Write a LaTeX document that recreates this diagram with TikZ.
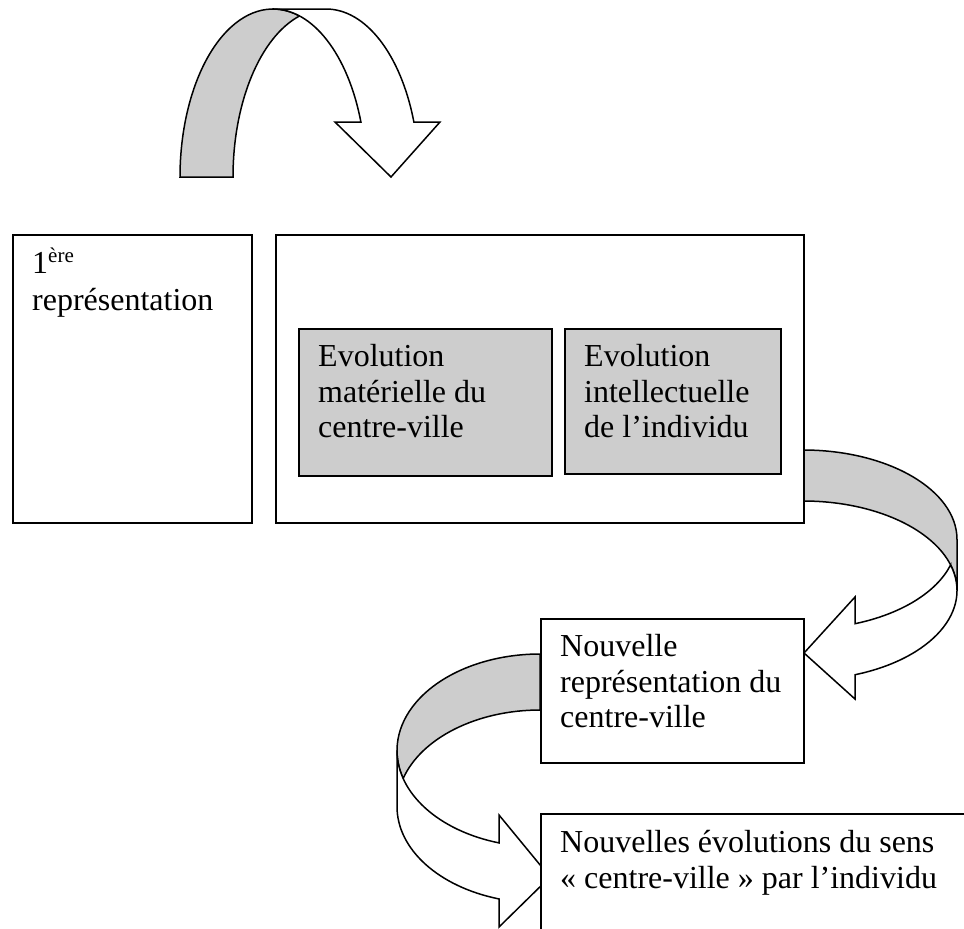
\documentclass[tikz,border=0pt]{standalone}
\usepackage{fontspec}
\setmainfont{Liberation Serif}
\definecolor{bandgrey}{RGB}{205,205,205}
\tikzset{
  outl/.style={draw=black, line width=1.5pt, line join=miter},
  backband/.style={outl, fill=bandgrey},
  frontband/.style={outl, fill=white},
  boxnode/.style={draw=black, line width=1.5pt, fill=white, rectangle, inner sep=0pt, anchor=north west},
  txt/.style={anchor=base west, inner sep=0pt, font=\fontsize{32}{36.8}\selectfont}
}
\begin{document}
\begin{tikzpicture}[x=1pt,y=-1pt]
\useasboundingbox (0,0) rectangle (964,929);
\clip (0,0) rectangle (964,929);

% ---- top curved down arrow ----
\path[backband] (180,177) arc[start angle=180,end angle=286.56,x radius=93,y radius=168]
  arc[start angle=253.44,end angle=180,x radius=93,y radius=168] -- cycle;
\path[frontband] (273,9) -- (326,9) arc[start angle=270,end angle=340.9,x radius=93,y radius=168]
  -- (440,122) -- (391,177) -- (335,122) -- (360.9,122)
  arc[start angle=340.9,end angle=270,x radius=93,y radius=168] -- cycle;

% ---- right curved left arrow ----
\path[backband] (803,450) arc[start angle=270,end angle=360,x radius=154,y radius=89.5]
  -- (957,590.5) arc[start angle=360,end angle=270,x radius=154,y radius=89.5] -- cycle;
\path[frontband] (950.6,565) arc[start angle=343.45,end angle=430.26,x radius=154,y radius=89.5]
  -- (855,699) -- (804,653) -- (855,597) -- (855,623.7)
  arc[start angle=70.26,end angle=16.55,x radius=154,y radius=89.5] -- cycle;

% ---- left curved right arrow ----
\path[backband] (540,654) arc[start angle=270,end angle=163.13,x radius=143,y radius=96.5]
  arc[start angle=196.87,end angle=270,x radius=143,y radius=96.5] -- cycle;
\path[frontband] (397,750.5) -- (397,806.5) arc[start angle=180,end angle=106.66,x radius=143,y radius=96.5]
  -- (499,927) -- (550,877) -- (499,815) -- (499,842.9)
  arc[start angle=106.66,end angle=180,x radius=143,y radius=96.5] -- cycle;

% ---- boxes ----
\node[boxnode, minimum width=239pt, minimum height=288pt] (rep1) at (12,234) {};
\node[boxnode, minimum width=528pt, minimum height=288pt] (evo) at (275,234) {};
\node[boxnode, fill=bandgrey, minimum width=253pt, minimum height=147pt] (mat) at (298,328) {};
\node[boxnode, fill=bandgrey, minimum width=216pt, minimum height=145pt] (intel) at (564,328) {};
\node[boxnode, minimum width=263pt, minimum height=144pt] (nouv) at (540,618) {};
\node[boxnode, minimum width=440pt, minimum height=130pt] (sens) at (540,813) {};

% ---- texts ----
\node[txt] (t1a) at (32,273) {1\raisebox{11pt}{\fontsize{21}{21}\selectfont ère}};
\node[txt] (t1b) at (32,310) {représentation};

\node[txt] (ma) at (318,366) {Evolution};
\node[txt] (mb) at (318,402) {matérielle du};
\node[txt] (mc) at (318,437) {centre-ville};

\node[txt] (ia) at (584,366) {Evolution};
\node[txt] (ib) at (584,402) {intellectuelle};
\node[txt] (ic) at (584,437) {de l’individu};

\node[txt] (na) at (560,656) {Nouvelle};
\node[txt] (nb) at (560,692) {représentation du};
\node[txt] (nc) at (560,727) {centre-ville};

\node[txt] (sa) at (560,852) {Nouvelles évolutions du sens};
\node[txt] (sb) at (560,888) {« centre-ville » par l’individu};
\end{tikzpicture}
\end{document}
